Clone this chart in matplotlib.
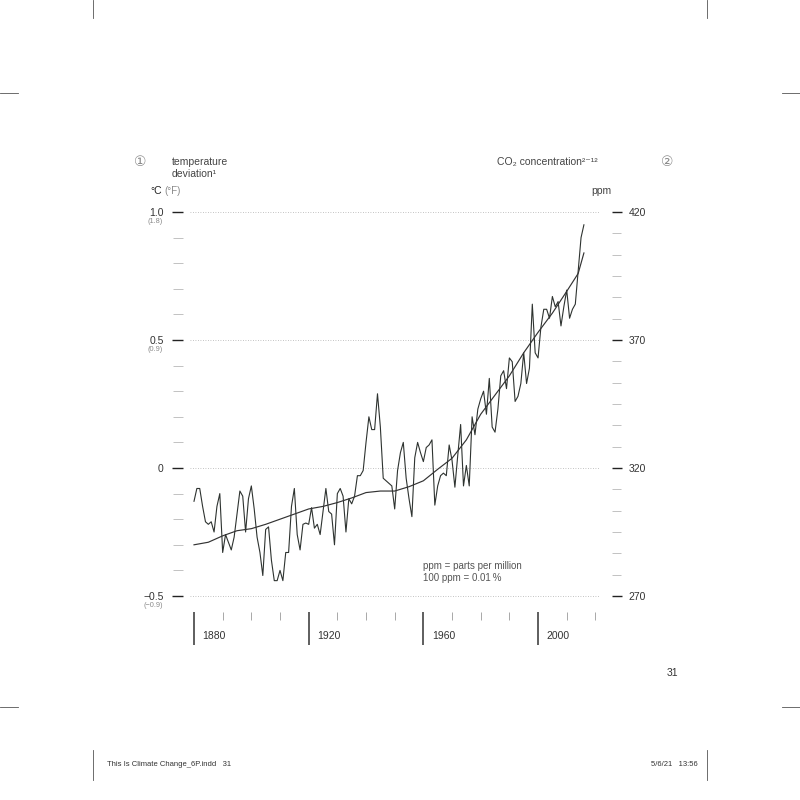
import matplotlib
matplotlib.use("Agg")
import matplotlib.pyplot as plt
from matplotlib.ticker import MultipleLocator, FixedLocator, FixedFormatter
from matplotlib.lines import Line2D
import numpy as np

plt.rcParams["font.family"] = ["Liberation Sans", "DejaVu Sans"]

# --- données ---
annees = np.arange(1880, 2017)
temperature = [
    -0.13, -0.08, -0.08, -0.15, -0.21, -0.22, -0.21, -0.25, -0.15, -0.10,
    -0.33, -0.26, -0.29, -0.32, -0.27, -0.18, -0.09, -0.11, -0.25, -0.12,
    -0.07, -0.16, -0.27, -0.33, -0.42, -0.24, -0.23, -0.36, -0.44, -0.44,
    -0.40, -0.44, -0.33, -0.33, -0.15, -0.08, -0.26, -0.32, -0.22, -0.215,
    -0.22, -0.155, -0.235, -0.22, -0.26, -0.17, -0.08, -0.17, -0.18, -0.30,
    -0.10, -0.08, -0.11, -0.25, -0.12, -0.14, -0.11, -0.03, -0.03, -0.01,
    0.10, 0.20, 0.15, 0.15, 0.29, 0.16, -0.04, -0.05, -0.06, -0.07,
    -0.16, -0.01, 0.06, 0.10, -0.04, -0.12, -0.19, 0.04, 0.10, 0.06,
    0.025, 0.08, 0.09, 0.11, -0.145, -0.07, -0.03, -0.02, -0.03, 0.09,
    0.03, -0.075, 0.05, 0.17, -0.07, 0.01, -0.07, 0.20, 0.13, 0.23,
    0.27, 0.30, 0.21, 0.35, 0.16, 0.14, 0.23, 0.36, 0.38, 0.31,
    0.43, 0.415, 0.26, 0.28, 0.33, 0.45, 0.33, 0.39, 0.64, 0.45,
    0.43, 0.55, 0.62, 0.62, 0.585, 0.67, 0.63, 0.65, 0.555, 0.63,
    0.695, 0.585, 0.62, 0.64, 0.77, 0.90, 0.95,
]

annees_co2 = [1880, 1885, 1890, 1895, 1900, 1905, 1910, 1915, 1920, 1925,
              1930, 1935, 1940, 1945, 1950, 1955, 1960, 1965, 1970, 1975,
              1980, 1985, 1990, 1995, 2000, 2005, 2010, 2014, 2016]
co2 = [290.0, 291.0, 293.5, 295.5, 296.3, 298.0, 300.0, 302.0, 304.0, 305.0,
       306.5, 308.3, 310.4, 311.0, 311.0, 312.7, 315.0, 319.5, 323.8, 331.0,
       341.0, 348.5, 356.0, 365.0, 373.0, 380.5, 389.0, 396.0, 404.0]

ticks_temp = [-0.5, 0, 0.5, 1.0]
labels_temp = ["\u22120.5", "0", "0.5", "1.0"]
labels_fahr = {-0.5: "(\u22120.9)", 0.5: "(0.9)", 1.0: "(1.8)"}
ticks_co2 = [270, 320, 370, 420]
decennies_major = [1880, 1920, 1960, 2000]

GRIS = "#444444"
GRIS_CLAIR = "#8a8a8a"
W = H = 800


def fx(px):
    return px / W


def fy(py):
    return 1 - py / H


fig = plt.figure(figsize=(8, 8), dpi=100)
ax = fig.add_axes([fx(190), fy(610), (600 - 190) / W, (610 - 200) / H])

# échelle : 1880 -> px 194, 10 ans = 28.67 px ; 0 °C -> px 468, 0.5 °C = 128 px
ax.set_xlim(1880 - 4 / 2.867, 1880 + 406 / 2.867)
ax.set_ylim((468 - 610) / 256, (468 - 200) / 256)

ax.plot(annees, temperature, color="#2e3330", linewidth=0.8, zorder=3)

ax2 = ax.twinx()
ax2.set_ylim(320 + ax.get_ylim()[0] * 100, 320 + ax.get_ylim()[1] * 100)
ax2.plot(annees_co2, co2, color="#333333", linewidth=0.85, zorder=3)

for a in (ax, ax2):
    for s in a.spines.values():
        s.set_visible(False)
    a.set_facecolor("none")

# axe gauche
ax.yaxis.set_major_locator(FixedLocator(ticks_temp))
ax.yaxis.set_major_formatter(FixedFormatter(labels_temp))
ax.yaxis.set_minor_locator(MultipleLocator(0.1))
ax.spines["left"].set_position(("outward", 5))
ax.tick_params(axis="y", which="major", length=8, width=1.0, color="#222222",
               pad=6, labelsize=7.5, labelcolor="#333333")
ax.tick_params(axis="y", which="minor", length=7, width=0.5, color="#aaaaaa")
ax.yaxis.grid(True, which="major", linestyle=(0, (1, 2)), color="#b0b0b0",
              linewidth=0.6)
for t, lab in labels_fahr.items():
    ax.text(-0.066, t - 0.037, lab, transform=ax.get_yaxis_transform(),
            ha="right", va="center", fontsize=5.3, color=GRIS_CLAIR)

# axe droit : 5 petites graduations entre deux grandes
mineurs_co2 = [v for v in np.arange(270, 420.01, 50 / 6)
               if min(abs(v - m) for m in ticks_co2) > 1]
ax2.yaxis.set_major_locator(FixedLocator(ticks_co2))
ax2.yaxis.set_minor_locator(FixedLocator(mineurs_co2))
ax2.spines["right"].set_position(("outward", 8.5))
ax2.tick_params(axis="y", which="major", length=7.5, width=1.0,
                color="#222222", pad=4.5, labelsize=7.5, labelcolor="#333333")
ax2.tick_params(axis="y", which="minor", length=6.5, width=0.5,
                color="#aaaaaa")

# axe du bas
ax.xaxis.set_major_locator(FixedLocator(decennies_major))
ax.xaxis.set_minor_locator(MultipleLocator(10))
ax.spines["bottom"].set_position(("outward", 1.5))
ax.tick_params(axis="x", which="major", length=24, width=1.1,
               color="#333333", labelbottom=False)
ax.tick_params(axis="x", which="minor", length=6, width=0.6, color="#9a9a9a")
for d in decennies_major:
    ax.text(d + 3, -0.063, str(d), transform=ax.get_xaxis_transform(),
            ha="left", va="center", fontsize=7.5, color="#333333")

ax.text(1960, -0.405, "ppm = parts per million\n100 ppm = 0.01\u2009%",
        ha="left", va="center", fontsize=7, color="#555555", linespacing=1.25,
        family=["Liberation Sans", "DejaVu Sans"])

# titres
fig.text(fx(140), fy(162), "\u2460", ha="center", va="center", fontsize=10,
         color=GRIS_CLAIR, family=["DejaVu Sans"])
fig.text(fx(172), fy(162), "temperature", ha="left", va="center",
         fontsize=7.5, color=GRIS)
fig.text(fx(172), fy(174), "deviation\u00b9", ha="left", va="center",
         fontsize=7.5, color=GRIS)
fig.text(fx(150), fy(191), "\u00b0C", ha="left", va="center", fontsize=7.5,
         color="#222222")
fig.text(fx(164), fy(191), "(\u00b0F)", ha="left", va="center", fontsize=7,
         color=GRIS_CLAIR)
fig.text(fx(611), fy(191), "ppm", ha="right", va="center", fontsize=7.5,
         color=GRIS)
fig.text(fx(598), fy(162), "CO\u2082 concentration\u00b2\u207b\u00b9\u00b2",
         ha="right", va="center", fontsize=7.5, color=GRIS,
         family=["Liberation Sans", "DejaVu Sans"])
fig.text(fx(667), fy(162), "\u2461", ha="center", va="center", fontsize=10,
         color=GRIS_CLAIR, family=["DejaVu Sans"])

# numéro de page et pied
fig.text(fx(672), fy(673), "31", ha="center", va="center", fontsize=7.5,
         color="#333333")
fig.text(fx(107), fy(764), "This Is Climate Change_6P.indd   31", ha="left",
         va="center", fontsize=5.5, color="#333333")
fig.text(fx(698), fy(764), "5/6/21   13:56", ha="right", va="center",
         fontsize=5.5, color="#333333")

# traits de coupe
traits = [
    ((93, 93), (0, 18)), ((707, 707), (0, 18)),
    ((0, 18), (93, 93)), ((782, 800), (93, 93)),
    ((0, 18), (707, 707)), ((782, 800), (707, 707)),
    ((93, 93), (750, 780)), ((707, 707), (750, 780)),
]
for (x0, x1), (y0, y1) in traits:
    fig.add_artist(Line2D([fx(x0), fx(x1)], [fy(y0), fy(y1)],
                          transform=fig.transFigure, color="#555555",
                          linewidth=0.6))

fig.savefig("out.png", dpi=100, facecolor="white")
